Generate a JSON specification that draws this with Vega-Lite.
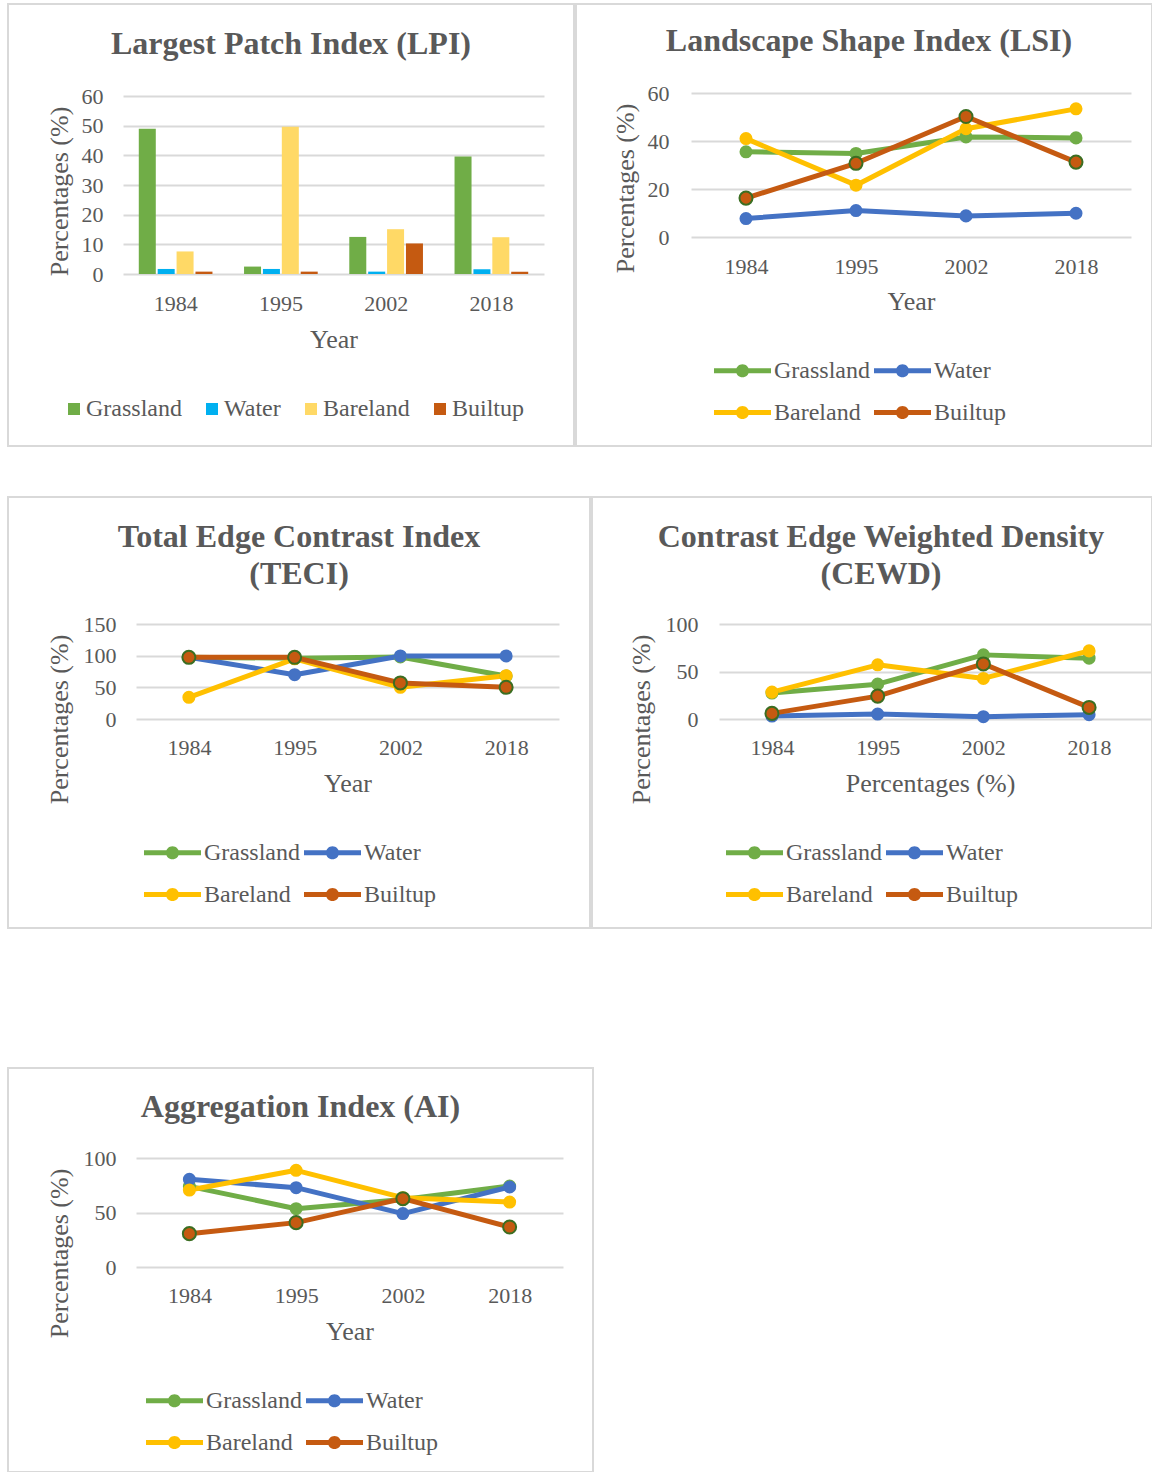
{
  "$schema": "https://vega.github.io/schema/vega-lite/v6.json",
  "padding": {"left": 7, "top": 3, "right": 0, "bottom": 0},
  "background": "white",
  "config": {
    "view": {"stroke": "#d9d9d9", "strokeWidth": 2},
    "font": "Liberation Serif",
    "title": {"font": "Liberation Serif", "fontSize": 32, "fontWeight": "bold", "color": "#595959", "anchor": "middle", "frame": "group", "lineHeight": 37},
    "axis": {"labelFont": "Liberation Serif", "labelFontSize": 22, "labelColor": "#595959", "titleFont": "Liberation Serif", "titleFontSize": 26, "titleFontWeight": "normal", "titleColor": "#595959", "domain": false, "ticks": false, "tickSize": 0, "gridColor": "#d9d9d9", "gridWidth": 2},
    "axisX": {"grid": false, "labelAngle": 0, "labelBaseline": "middle", "titleBaseline": "middle"},
    "axisY": {"grid": true, "titleAngle": -90, "titleAlign": "center", "titleBaseline": "middle", "labelBaseline": "middle"},
    "legend": {"labelFont": "Liberation Serif", "labelFontSize": 24, "labelColor": "#595959", "padding": 0, "labelLimit": 0}
  },
  "datasets": {
    "lpi": [
      {"Year": "1984", "Class": "Grassland", "Value": 49.0},
      {"Year": "1984", "Class": "Water", "Value": 1.7},
      {"Year": "1984", "Class": "Bareland", "Value": 7.6},
      {"Year": "1984", "Class": "Builtup", "Value": 0.8},
      {"Year": "1995", "Class": "Grassland", "Value": 2.5},
      {"Year": "1995", "Class": "Water", "Value": 1.7},
      {"Year": "1995", "Class": "Bareland", "Value": 49.6},
      {"Year": "1995", "Class": "Builtup", "Value": 0.8},
      {"Year": "2002", "Class": "Grassland", "Value": 12.5},
      {"Year": "2002", "Class": "Water", "Value": 0.8},
      {"Year": "2002", "Class": "Bareland", "Value": 15.1},
      {"Year": "2002", "Class": "Builtup", "Value": 10.3},
      {"Year": "2018", "Class": "Grassland", "Value": 39.6},
      {"Year": "2018", "Class": "Water", "Value": 1.6},
      {"Year": "2018", "Class": "Bareland", "Value": 12.4},
      {"Year": "2018", "Class": "Builtup", "Value": 0.8}
    ],
    "lsi": [
      {"Year": "1984", "Class": "Grassland", "Value": 35.5},
      {"Year": "1995", "Class": "Grassland", "Value": 34.8},
      {"Year": "2002", "Class": "Grassland", "Value": 41.7},
      {"Year": "2018", "Class": "Grassland", "Value": 41.3},
      {"Year": "1984", "Class": "Water", "Value": 7.7},
      {"Year": "1995", "Class": "Water", "Value": 11.0},
      {"Year": "2002", "Class": "Water", "Value": 8.8},
      {"Year": "2018", "Class": "Water", "Value": 9.9},
      {"Year": "1984", "Class": "Bareland", "Value": 41.0},
      {"Year": "1995", "Class": "Bareland", "Value": 21.6},
      {"Year": "2002", "Class": "Bareland", "Value": 45.1},
      {"Year": "2018", "Class": "Bareland", "Value": 53.4},
      {"Year": "1984", "Class": "Builtup", "Value": 16.2},
      {"Year": "1995", "Class": "Builtup", "Value": 30.7},
      {"Year": "2002", "Class": "Builtup", "Value": 50.2},
      {"Year": "2018", "Class": "Builtup", "Value": 31.2}
    ],
    "teci": [
      {"Year": "1984", "Class": "Grassland", "Value": 97.4},
      {"Year": "1995", "Class": "Grassland", "Value": 96.0},
      {"Year": "2002", "Class": "Grassland", "Value": 98.0},
      {"Year": "2018", "Class": "Grassland", "Value": 68.0},
      {"Year": "1984", "Class": "Water", "Value": 97.4},
      {"Year": "1995", "Class": "Water", "Value": 70.0},
      {"Year": "2002", "Class": "Water", "Value": 99.5},
      {"Year": "2018", "Class": "Water", "Value": 99.5},
      {"Year": "1984", "Class": "Bareland", "Value": 34.2},
      {"Year": "1995", "Class": "Bareland", "Value": 95.0},
      {"Year": "2002", "Class": "Bareland", "Value": 50.0},
      {"Year": "2018", "Class": "Bareland", "Value": 68.4},
      {"Year": "1984", "Class": "Builtup", "Value": 97.4},
      {"Year": "1995", "Class": "Builtup", "Value": 97.4},
      {"Year": "2002", "Class": "Builtup", "Value": 57.0},
      {"Year": "2018", "Class": "Builtup", "Value": 50.0}
    ],
    "cewd": [
      {"Year": "1984", "Class": "Grassland", "Value": 27.3},
      {"Year": "1995", "Class": "Grassland", "Value": 36.7},
      {"Year": "2002", "Class": "Grassland", "Value": 67.5},
      {"Year": "2018", "Class": "Grassland", "Value": 64.0},
      {"Year": "1984", "Class": "Water", "Value": 3.1},
      {"Year": "1995", "Class": "Water", "Value": 5.2},
      {"Year": "2002", "Class": "Water", "Value": 2.4},
      {"Year": "2018", "Class": "Water", "Value": 4.5},
      {"Year": "1984", "Class": "Bareland", "Value": 28.3},
      {"Year": "1995", "Class": "Bareland", "Value": 57.0},
      {"Year": "2002", "Class": "Bareland", "Value": 42.7},
      {"Year": "2018", "Class": "Bareland", "Value": 71.7},
      {"Year": "1984", "Class": "Builtup", "Value": 5.9},
      {"Year": "1995", "Class": "Builtup", "Value": 24.1},
      {"Year": "2002", "Class": "Builtup", "Value": 58.0},
      {"Year": "2018", "Class": "Builtup", "Value": 12.2}
    ],
    "ai": [
      {"Year": "1984", "Class": "Grassland", "Value": 74.0},
      {"Year": "1995", "Class": "Grassland", "Value": 53.5},
      {"Year": "2002", "Class": "Grassland", "Value": 62.0},
      {"Year": "2018", "Class": "Grassland", "Value": 74.3},
      {"Year": "1984", "Class": "Water", "Value": 80.4},
      {"Year": "1995", "Class": "Water", "Value": 72.8},
      {"Year": "2002", "Class": "Water", "Value": 49.0},
      {"Year": "2018", "Class": "Water", "Value": 73.4},
      {"Year": "1984", "Class": "Bareland", "Value": 70.6},
      {"Year": "1995", "Class": "Bareland", "Value": 88.7},
      {"Year": "2002", "Class": "Bareland", "Value": 63.6},
      {"Year": "2018", "Class": "Bareland", "Value": 59.6},
      {"Year": "1984", "Class": "Builtup", "Value": 30.6},
      {"Year": "1995", "Class": "Builtup", "Value": 40.7},
      {"Year": "2002", "Class": "Builtup", "Value": 62.7},
      {"Year": "2018", "Class": "Builtup", "Value": 36.7}
    ]
  },
  "resolve": {"scale": {"color": "independent", "x": "independent", "y": "independent"}, "legend": {"color": "independent"}},
  "spacing": 138,
  "vconcat": [
    {
      "resolve": {"scale": {"color": "independent", "x": "independent", "y": "independent"}, "legend": {"color": "independent"}},
      "spacing": 49,
      "vconcat": [
        {
          "resolve": {"scale": {"color": "independent", "x": "independent", "y": "independent"}, "legend": {"color": "independent"}},
          "spacing": 0,
          "hconcat": [
            {
              "width": 566,
              "height": 442,
              "title": {"text": "Largest Patch Index (LPI)", "offset": -57},
              "data": {"name": "lpi"},
              "mark": {"type": "bar"},
              "encoding": {
                "x": {"field": "Year", "type": "ordinal", "scale": {"type": "band", "range": [115, 536], "paddingInner": 0.3, "paddingOuter": 0.15},
                      "axis": {"offset": -172, "labelPadding": 29, "title": "Year", "titleY": 65}},
                "xOffset": {"field": "Class", "type": "nominal", "sort": ["Grassland", "Water", "Bareland", "Builtup"],
                            "scale": {"domain": ["Grassland", "Water", "Bareland", "Builtup"], "paddingInner": 0.1, "paddingOuter": 0}},
                "y": {"field": "Value", "type": "quantitative", "scale": {"domain": [0, 60], "range": [270, 92], "nice": false},
                      "axis": {"values": [0, 10, 20, 30, 40, 50, 60], "offset": -115, "labelPadding": 20, "title": "Percentages (%)", "titleX": -64, "titleY": 187}},
                "color": {"field": "Class", "type": "nominal",
                          "scale": {"domain": ["Grassland", "Water", "Bareland", "Builtup"], "range": ["#70AD47", "#00B0F0", "#FFD966", "#C55A11"]},
                          "legend": {"orient": "none", "legendX": 54, "legendY": 393, "direction": "horizontal", "columns": 4, "title": null,
                                     "symbolType": "square", "symbolSize": 144, "symbolStrokeWidth": 0, "labelOffset": 0, "columnPadding": 18}}
              }
            },
            {
              "width": 576,
              "height": 442,
              "title": {"text": "Landscape Shape Index (LSI)", "offset": -54, "dx": 5},
              "data": {"name": "lsi"},
              "encoding": {
                "x": {"field": "Year", "type": "ordinal", "scale": {"type": "point", "range": [115, 555], "padding": 0.5},
                      "axis": {"offset": -209, "labelPadding": 29, "title": "Year", "titleY": 64}},
                "y": {"field": "Value", "type": "quantitative", "scale": {"domain": [0, 60], "range": [233, 89], "nice": false, "zero": false},
                      "axis": {"values": [0, 20, 40, 60], "offset": -115, "labelPadding": 22, "title": "Percentages (%)", "titleX": -66, "titleY": 184}}
              },
              "layer": [
                {
                  "mark": {"type": "line", "strokeWidth": 5, "strokeCap": "round", "strokeJoin": "round"},
                  "encoding": {"stroke": {"field": "Class", "type": "nominal",
                    "scale": {"domain": ["Grassland", "Water", "Bareland", "Builtup"], "range": ["#70AD47", "#4472C4", "#FFC000", "#C55A11"]}, "legend": null}}
                },
                {
                  "mark": {"type": "point", "filled": true, "size": 170, "opacity": 1},
                  "encoding": {"color": {"field": "Class", "type": "nominal",
                    "scale": {"domain": ["Grassland", "Water", "Bareland", "Builtup"], "range": ["#70AD47", "#4472C4", "#FFC000", "#C55A11"]},
                    "legend": {"orient": "none", "legendX": 138, "legendY": 338, "direction": "horizontal", "columns": 2, "title": null,
                               "symbolType": "M-1,-0.09L1,-0.09L1,0.09L-1,0.09Z M0.23,0A0.23,0.23 0 1,1 -0.23,0A0.23,0.23 0 1,1 0.23,0Z",
                               "symbolSize": 3249, "symbolStrokeWidth": 0, "symbolOpacity": 1, "labelOffset": 3, "columnPadding": 4, "rowPadding": 1}}}
                },
                {
                  "transform": [{"filter": "datum.Class === 'Builtup'"}],
                  "mark": {"type": "point", "filled": false, "size": 170, "stroke": "#3B6E22", "strokeWidth": 2, "opacity": 1}
                }
              ]
            }
          ]
        },
        {
          "resolve": {"scale": {"color": "independent", "x": "independent", "y": "independent"}, "legend": {"color": "independent"}},
          "spacing": 0,
          "hconcat": [
            {
              "width": 582,
              "height": 431,
              "title": {"text": ["Total Edge Contrast Index", "(TECI)"], "offset": -94},
              "data": {"name": "teci"},
              "encoding": {
                "x": {"field": "Year", "type": "ordinal", "scale": {"type": "point", "range": [128, 551], "padding": 0.5},
                      "axis": {"offset": -209, "labelPadding": 28, "title": "Year", "titleY": 64}},
                "y": {"field": "Value", "type": "quantitative", "scale": {"domain": [0, 150], "range": [222, 127], "nice": false, "zero": false},
                      "axis": {"values": [0, 50, 100, 150], "offset": -128, "labelPadding": 20, "title": "Percentages (%)", "titleX": -77, "titleY": 222}}
              },
              "layer": [
                {
                  "mark": {"type": "line", "strokeWidth": 5, "strokeCap": "round", "strokeJoin": "round"},
                  "encoding": {"stroke": {"field": "Class", "type": "nominal",
                    "scale": {"domain": ["Grassland", "Water", "Bareland", "Builtup"], "range": ["#70AD47", "#4472C4", "#FFC000", "#C55A11"]}, "legend": null}}
                },
                {
                  "mark": {"type": "point", "filled": true, "size": 170, "opacity": 1},
                  "encoding": {"color": {"field": "Class", "type": "nominal",
                    "scale": {"domain": ["Grassland", "Water", "Bareland", "Builtup"], "range": ["#70AD47", "#4472C4", "#FFC000", "#C55A11"]},
                    "legend": {"orient": "none", "legendX": 136, "legendY": 327, "direction": "horizontal", "columns": 2, "title": null,
                               "symbolType": "M-1,-0.09L1,-0.09L1,0.09L-1,0.09Z M0.23,0A0.23,0.23 0 1,1 -0.23,0A0.23,0.23 0 1,1 0.23,0Z",
                               "symbolSize": 3249, "symbolStrokeWidth": 0, "symbolOpacity": 1, "labelOffset": 3, "columnPadding": 4, "rowPadding": 1}}}
                },
                {
                  "transform": [{"filter": "datum.Class === 'Builtup'"}],
                  "mark": {"type": "point", "filled": false, "size": 170, "stroke": "#3B6E22", "strokeWidth": 2, "opacity": 1}
                }
              ]
            },
            {
              "width": 560,
              "height": 431,
              "title": {"text": ["Contrast Edge Weighted Density", "(CEWD)"], "offset": -94, "dx": 9},
              "data": {"name": "cewd"},
              "encoding": {
                "x": {"field": "Year", "type": "ordinal", "scale": {"type": "point", "range": [127, 560], "padding": 0.548, "align": 0.457},
                      "axis": {"offset": -209, "labelPadding": 28, "title": "Percentages (%)", "titleY": 64, "titleX": 338}},
                "y": {"field": "Value", "type": "quantitative", "scale": {"domain": [0, 100], "range": [222, 127], "nice": false, "zero": false},
                      "axis": {"values": [0, 50, 100], "offset": -127, "labelPadding": 21, "title": "Percentages (%)", "titleX": -78, "titleY": 222}}
              },
              "layer": [
                {
                  "mark": {"type": "line", "strokeWidth": 5, "strokeCap": "round", "strokeJoin": "round"},
                  "encoding": {"stroke": {"field": "Class", "type": "nominal",
                    "scale": {"domain": ["Grassland", "Water", "Bareland", "Builtup"], "range": ["#70AD47", "#4472C4", "#FFC000", "#C55A11"]}, "legend": null}}
                },
                {
                  "mark": {"type": "point", "filled": true, "size": 170, "opacity": 1},
                  "encoding": {"color": {"field": "Class", "type": "nominal",
                    "scale": {"domain": ["Grassland", "Water", "Bareland", "Builtup"], "range": ["#70AD47", "#4472C4", "#FFC000", "#C55A11"]},
                    "legend": {"orient": "none", "legendX": 134, "legendY": 327, "direction": "horizontal", "columns": 2, "title": null,
                               "symbolType": "M-1,-0.09L1,-0.09L1,0.09L-1,0.09Z M0.23,0A0.23,0.23 0 1,1 -0.23,0A0.23,0.23 0 1,1 0.23,0Z",
                               "symbolSize": 3249, "symbolStrokeWidth": 0, "symbolOpacity": 1, "labelOffset": 3, "columnPadding": 4, "rowPadding": 1}}}
                },
                {
                  "transform": [{"filter": "datum.Class === 'Builtup'"}],
                  "mark": {"type": "point", "filled": false, "size": 170, "stroke": "#3B6E22", "strokeWidth": 2, "opacity": 1}
                }
              ]
            }
          ]
        }
      ]
    },
    {
      "width": 585,
      "height": 404,
      "title": {"text": "Aggregation Index (AI)", "offset": -56},
      "data": {"name": "ai"},
      "encoding": {
        "x": {"field": "Year", "type": "ordinal", "scale": {"type": "point", "range": [128, 555], "padding": 0.5},
              "axis": {"offset": -205, "labelPadding": 28, "title": "Year", "titleY": 64}},
        "y": {"field": "Value", "type": "quantitative", "scale": {"domain": [0, 100], "range": [199, 90], "nice": false, "zero": false},
              "axis": {"values": [0, 50, 100], "offset": -128, "labelPadding": 20, "title": "Percentages (%)", "titleX": -77, "titleY": 185}}
      },
      "layer": [
        {
          "mark": {"type": "line", "strokeWidth": 5, "strokeCap": "round", "strokeJoin": "round"},
          "encoding": {"stroke": {"field": "Class", "type": "nominal",
            "scale": {"domain": ["Grassland", "Water", "Bareland", "Builtup"], "range": ["#70AD47", "#4472C4", "#FFC000", "#C55A11"]}, "legend": null}}
        },
        {
          "mark": {"type": "point", "filled": true, "size": 170, "opacity": 1},
          "encoding": {"color": {"field": "Class", "type": "nominal",
            "scale": {"domain": ["Grassland", "Water", "Bareland", "Builtup"], "range": ["#70AD47", "#4472C4", "#FFC000", "#C55A11"]},
            "legend": {"orient": "none", "legendX": 138, "legendY": 304, "direction": "horizontal", "columns": 2, "title": null,
                       "symbolType": "M-1,-0.09L1,-0.09L1,0.09L-1,0.09Z M0.23,0A0.23,0.23 0 1,1 -0.23,0A0.23,0.23 0 1,1 0.23,0Z",
                       "symbolSize": 3249, "symbolStrokeWidth": 0, "symbolOpacity": 1, "labelOffset": 3, "columnPadding": 4, "rowPadding": 1}}}
        },
        {
          "transform": [{"filter": "datum.Class === 'Builtup'"}],
          "mark": {"type": "point", "filled": false, "size": 170, "stroke": "#3B6E22", "strokeWidth": 2, "opacity": 1}
        }
      ]
    }
  ]
}
